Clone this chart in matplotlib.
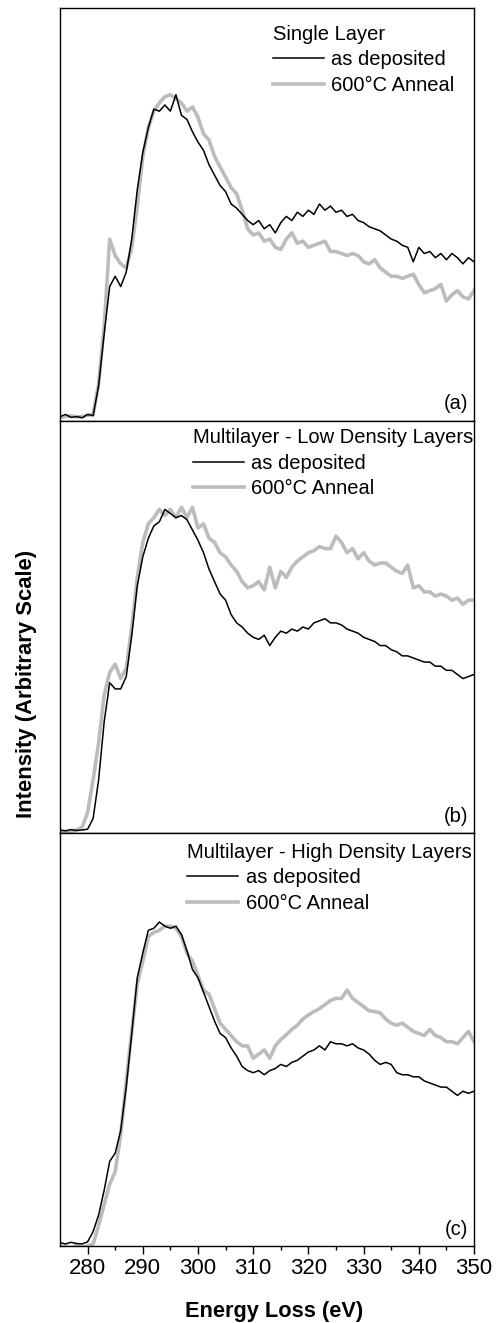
import numpy as np
import matplotlib.pyplot as plt

plt.rcParams['font.family'] = ['Liberation Sans', 'DejaVu Sans']

# energy loss channels (eV)
energy = np.arange(275, 351)

# intensities, arbitrary scale (0-100 per panel)
single_dep = [1.0, 1.5, 0.8, 1.0, 0.7, 1.5, 1.2, 8.5, 21, 32.5,
              35, 32.5, 36, 44, 56, 65, 71, 75.5, 75, 76.5,
              75, 79, 74, 73, 70, 67.5, 65.5, 62, 59.5, 57,
              55.5, 52.5, 51.5, 50, 48.5, 47.5, 48.5, 46.5, 47.5, 45.5,
              48, 49.5, 48.5, 50.5, 49.5, 51, 50, 52.5, 51, 52,
              50.5, 51, 49.5, 50, 48.5, 48, 47, 46.5, 46, 45,
              44, 43.5, 42.5, 42, 38.5, 42, 40.5, 41, 39.5, 40.5,
              39, 40.5, 39.5, 38, 39.5, 38.5]
single_ann = [0.8, 1.0, 1.2, 0.9, 1.0, 1.3, 1.5, 9, 23, 44,
              40, 38, 37, 42, 52, 64, 71, 75, 77, 78.5,
              79, 78, 77, 75, 76, 73.5, 69.5, 68, 64, 61.5,
              59, 56.5, 55, 51, 46.5, 45, 45.5, 43.5, 44, 42,
              41.5, 44, 45.5, 43, 43.5, 42, 42.5, 43, 43.5, 41,
              41, 40.5, 40, 40.5, 40, 38.5, 38, 39, 37, 36,
              35, 35, 34.5, 35, 35.5, 33, 31, 31.5, 32, 33,
              29, 30.5, 31.5, 30, 29.5, 31.5]

low_dep = [0.8, 0.6, 0.9, 0.7, 0.8, 1.0, 3.6, 13, 27, 36.5,
           35, 35, 38, 48, 60, 67, 71.5, 74.5, 75.5, 78.5,
           77.5, 76.5, 77, 76, 73.5, 71, 68, 64, 61, 58,
           56.5, 53, 51, 50, 48.5, 47.5, 47, 48, 45.5, 47.5,
           49, 48.5, 49.5, 49, 50, 49.5, 51, 51.5, 52, 51,
           51, 50.5, 49.5, 49, 48.5, 47.5, 47, 46.5, 45.5, 45.5,
           44.5, 44, 43, 43, 42.5, 42, 41.5, 41.5, 40.5, 40.5,
           39.5, 39.5, 38.5, 37.5, 38, 38.5]
low_ann = [0.3, 0.5, 0.4, 0.8, 1.5, 5, 13, 22, 33.5, 39,
           41, 37.5, 40, 50, 62, 70.5, 75, 76.5, 78.5, 77,
           78.5, 76.5, 79, 76.5, 79, 74, 75, 71.5, 70.5, 68,
           67, 65, 63.5, 61, 59.5, 60, 61, 59, 64.5, 59.5,
           63.5, 62, 64.5, 66, 67, 68, 68.5, 69.5, 69, 69,
           72, 70.5, 68, 69, 66.5, 68, 66, 65, 65.5, 65.5,
           64.5, 63.5, 63, 65, 59.5, 60, 58.5, 58.5, 57.5, 58,
           57.5, 56.5, 57, 55.5, 56.5, 56.5]

high_dep = [0.8, 0.5, 0.9, 0.6, 0.5, 1.0, 3.5, 7.5, 13.5, 20.5,
            22.5, 28, 38.5, 51.5, 65, 71, 76.5, 77, 78.5, 77.5,
            77, 77.5, 75.5, 71.5, 67, 65, 61.5, 58, 54.5, 51.5,
            50.5, 48, 46, 43.5, 42.5, 42, 42.5, 41.5, 42.5, 43,
            44, 43.5, 44.5, 45, 46, 47, 47.5, 48.5, 47.5, 49.5,
            49, 49, 48.5, 49, 48, 47.5, 46.5, 45, 44, 44.5,
            44, 42, 41.5, 41.5, 41, 41, 40, 39.5, 39, 38.5,
            38.5, 37.5, 36.5, 37.5, 37, 37.5]
high_ann = [-0.3, 0.0, -0.5, 0.2, -0.3, 0.0, 0.5, 5, 10, 15,
            18, 27, 40, 52, 63.5, 69, 75, 76, 76.5, 77.5,
            77.5, 77, 75, 71, 69, 65.5, 62, 61, 57.5, 54,
            52.5, 51, 49.5, 48.5, 48.5, 45.5, 46.5, 47.5, 45.5, 48.5,
            50, 51.2, 52.5, 53.5, 55, 56, 56.8, 57.5, 58.5, 59.5,
            60, 60, 62, 60, 59, 58, 57, 56.8, 56.5, 55,
            54, 53.5, 54, 53, 52, 51.5, 51, 52.5, 51, 50.5,
            49.5, 49.5, 49, 50.5, 52, 49.5]

panel_titles = ["Single Layer",
                "Multilayer - Low Density Layers",
                "Multilayer - High Density Layers"]
panel_tags = ["(a)", "(b)", "(c)"]
series_names = ["as deposited", "600°C Anneal"]

deposited = [single_dep, low_dep, high_dep]
annealed = [single_ann, low_ann, high_ann]

# legend anchor (upper-left corner, axes fraction) per panel
legend_anchor = [(0.514, 0.960), (0.321, 0.982), (0.307, 0.977)]

W, H = 497, 1323
fig = plt.figure(figsize=(W / 100, H / 100), dpi=100)

left, right = 60, 474
top, bottom = 8, 1246
ph = (bottom - top) / 3

axes = []
for i in range(3):
    y0 = H - (top + ph * (i + 1))
    ax = fig.add_axes([left / W, y0 / H, (right - left) / W, ph / H])
    axes.append(ax)

    h_ann, = ax.plot(energy, annealed[i], color='#bcbcbc', lw=2.6, zorder=2)
    h_dep, = ax.plot(energy, deposited[i], color='black', lw=1.1, zorder=3)

    ax.set_xlim(275, 350)
    ax.set_ylim(0, 100)
    ax.set_yticks([])
    for sp in ax.spines.values():
        sp.set_linewidth(1.0)

    ax.legend([h_dep, h_ann], series_names, title=panel_titles[i],
              loc='upper left', bbox_to_anchor=legend_anchor[i],
              frameon=False, fontsize=14.5, title_fontsize=14.5,
              alignment='left', handlelength=2.55, handletextpad=0.35,
              labelspacing=0.33, borderpad=0, borderaxespad=0)

    ax.text(0.985, 0.018, panel_tags[i], transform=ax.transAxes,
            ha='right', va='bottom', fontsize=14.5)

    if i < 2:
        ax.tick_params(axis='x', bottom=False, labelbottom=False)
    else:
        ax.set_xticks(np.arange(280, 351, 10))
        ax.set_xticks(np.arange(285, 350, 10), minor=True)
        ax.tick_params(axis='x', which='major', direction='out', length=5.5,
                       width=1.0, labelsize=16, pad=3)
        ax.tick_params(axis='x', which='minor', direction='out', length=3,
                       width=1.0)

fig.text(274 / W, 1 - 1311 / H, "Energy Loss (eV)", ha='center', va='center',
         fontsize=15.7, fontweight='bold')
fig.text(27 / W, 1 - 684 / H, "Intensity (Arbitrary Scale)", ha='center',
         va='center', rotation=90, fontsize=15.8, fontweight='bold')

fig.savefig("out.png", dpi=100)
